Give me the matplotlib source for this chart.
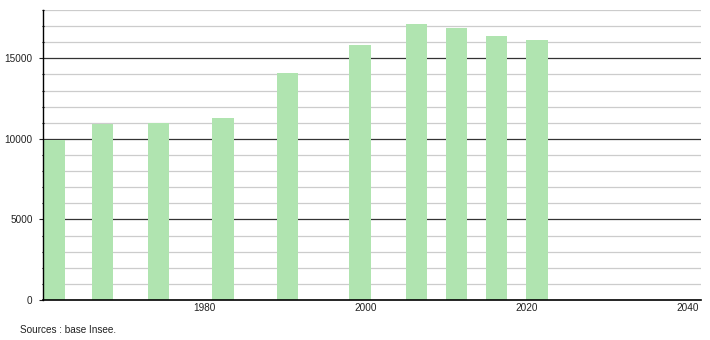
import numpy as np
import matplotlib
matplotlib.use("Agg")
import matplotlib.pyplot as plt

# Population data (base Insee), bar positions
years = [1961, 1967, 1974, 1982, 1990, 1999, 2006, 2011, 2016, 2021]
population = [9910, 10900, 10980, 11280, 14080, 15830, 17130, 16880, 16370, 16140]
xticks = [1980, 2000, 2020, 2040]
yticks = [0, 5000, 10000, 15000]

plt.rcParams["font.family"] = ["Liberation Sans", "DejaVu Sans"]

fig = plt.figure(figsize=(7.1, 3.4), dpi=100)
ax = fig.add_axes([43 / 710, 40 / 340, 658 / 710, 290 / 340])

# grid: light every 1000, dark every 5000
for v in range(1000, 19000, 1000):
    if v % 5000 == 0:
        ax.axhline(v, color="#333333", lw=0.9, zorder=1)
    else:
        ax.axhline(v, color="#cccccc", lw=0.9, zorder=1)

ax.bar(np.array(years) - 1, population, width=2.65, align="edge",
       color="#b0e4b0", zorder=2)

ax.set_xlim(1959.94, 2041.7)
ax.set_ylim(0, 18000)
ax.set_xticks(xticks)
ax.set_yticks(yticks)
ax.set_yticks(range(1000, 18001, 1000), minor=True)
ax.tick_params(axis="x", length=0, labelsize=7.2, pad=2.5, colors="#222222")
ax.tick_params(axis="y", which="major", length=3, width=0.8, labelsize=7.2,
               pad=4.5, colors="#222222")
ax.tick_params(axis="y", which="minor", length=1.5, width=0.8, direction="inout")

for s in ["top", "right"]:
    ax.spines[s].set_visible(False)
ax.spines["left"].set_linewidth(1.0)
ax.spines["bottom"].set_linewidth(1.2)
ax.spines["bottom"].set_zorder(3)

fig.text(20 / 710, 1 - 330 / 340, "Sources : base Insee.", fontsize=7.2,
         va="center", color="#222222")

fig.savefig("out.png", dpi=100)
